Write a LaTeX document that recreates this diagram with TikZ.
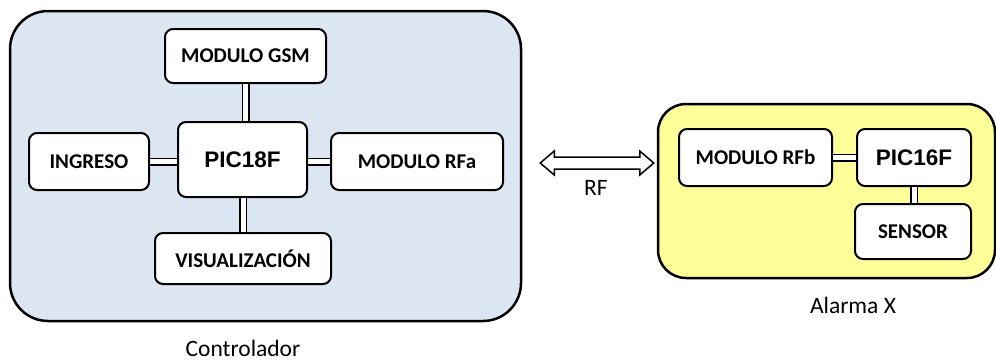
\documentclass[tikz,border=0pt]{standalone}
\usepackage{fontspec}
\setmainfont{Carlito}
\newfontfamily\picfont{Liberation Sans}
\usetikzlibrary{calc}

\definecolor{ctrlfill}{HTML}{DCE6F2}
\definecolor{alarmfill}{HTML}{FFFF99}
\colorlet{box edge}{black}
\def\labelsize{\fontsize{21}{25}\selectfont}
\def\chipsize{\fontsize{22.5}{26}\selectfont}
\def\captionsize{\fontsize{23.5}{27}\selectfont}
\tikzset{
  container/.style={draw=box edge, line width=2.5pt, rounded corners=#1},
  block/.style={draw=box edge, line width=2pt, fill=white, rounded corners=8pt,
    inner sep=0pt, font=\labelsize\bfseries},
  chip/.style={block, font=\picfont\chipsize\bfseries},
  caption/.style={font=\captionsize, inner sep=0pt}
  }
\tikzstyle{bus} = [draw, line width=1.5pt, double=white, double distance=5pt]
\tikzstyle{bigarrow} = [draw, line width=1.5pt, fill=white, line join=miter]

\begin{document}
\begin{tikzpicture}[x=1pt,y=-1pt]
   \useasboundingbox (0,0) rectangle (996,360);

   % Controlador
   \node[container=38pt, fill=ctrlfill, minimum width=511pt, minimum height=310pt] (ctrl) at (265.5,166) {};
   \node[chip, minimum width=129pt, minimum height=75pt] (pic18) at (242.5,159.5) {PIC18F};
   \node[block, minimum width=161pt, minimum height=54pt] (gsm) at (245.5,56) {MODULO GSM};
   \node[block, minimum width=120pt, minimum height=57pt] (ingreso) at (89,161.5) {INGRESO};
   \node[block, minimum width=172pt, minimum height=57pt] (rfa) at (417,161.5) {MODULO RFa};
   \node[block, minimum width=176pt, minimum height=51pt] (visual) at (243,258.5) {VISUALIZACIÓN};
   \node[caption] (ctrlcap) at (243,348) {Controlador};

   \path[bus] (gsm.south) -- (gsm.south |- pic18.north);
   \path[bus] (visual.north) -- (visual.north |- pic18.south);
   \path[bus] (ingreso.east) -- (ingreso.east -| pic18.west);
   \path[bus] (rfa.west) -- (rfa.west -| pic18.east);

   % Alarma
   \node[container=28pt, fill=alarmfill, minimum width=337pt, minimum height=174pt] (alarm) at (826.5,191) {};
   \node[block, minimum width=153pt, minimum height=57pt] (rfb) at (755.5,157.5) {MODULO RFb};
   \node[chip, minimum width=114pt, minimum height=57pt] (pic16) at (914,157.5) {PIC16F};
   \node[block, minimum width=116pt, minimum height=55pt] (sensor) at (913,231.5) {SENSOR};
   \node[caption] (alarmcap) at (853,305) {Alarma X};

   \path[bus] (rfb.east) -- (rfb.east -| pic16.west);
   \path[bus] (pic16.south) -- (pic16.south |- sensor.north);

   % enlace RF
   \coordinate (rfl) at ($(ctrl.east |- 0,163)+(18,0)$);
   \coordinate (rfr) at ($(alarm.west |- 0,163)+(-3,0)$);
   \path[bigarrow] (rfl) -- ++(14,-12) -- ++(0,6) -- ($(rfr)+(-14,-6)$) -- ++(0,-6)
      -- (rfr) -- ++(-14,12) -- ++(0,-6) -- ($(rfl)+(14,6)$) -- ++(0,6) -- cycle;
   \node[caption] (rf) at (596,188) {RF};
\end{tikzpicture}
\end{document}
